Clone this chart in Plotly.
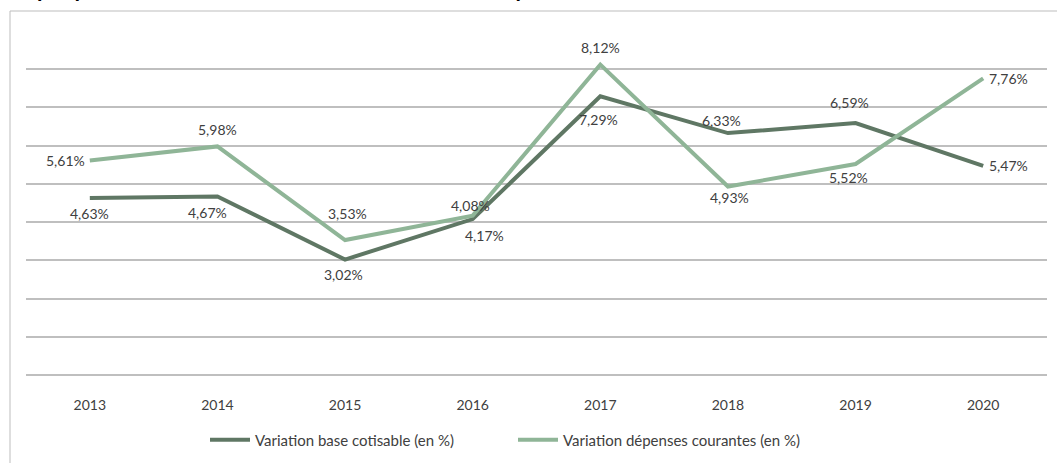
import plotly.graph_objects as go

years = ["2013", "2014", "2015", "2016", "2017", "2018", "2019", "2020"]
base_cotisable = [4.63, 4.67, 3.02, 4.08, 7.29, 6.33, 6.59, 5.47]
depenses_courantes = [5.61, 5.98, 3.53, 4.17, 8.12, 4.93, 5.52, 7.76]
name_base = "Variation base cotisable (en %)"
name_dep = "Variation dépenses courantes (en %)"
title_text = "Graphique 1 : Variation de la base cotisable et des dépenses courantes entre 2013 et 2020"

# label placement (pixel offsets, anchor) – style only
off_base = [(0, -15, "center"), (-10, -16, "center"), (-2, -15, "center"), (-2, 14, "center"),
            (-2, -23, "center"), (-6, 13, "center"), (-6, 21, "center"), (4, 0, "left")]
off_dep = [(-3, 0, "right"), (0, 17, "center"), (2, 27, "center"), (12, -20, "center"),
           (0, 17, "center"), (2, -11, "center"), (-7, -13, "center"), (4, 0, "left")]

def fmt(v):
    return f"{v:.2f}%".replace(".", ",")

FONT = "Lato, Open Sans, sans-serif"
DARK = "#5f7764"
LIGHT = "#8fb597"
TXT = "#404040"

fig = go.Figure()
fig.add_trace(go.Scatter(x=years, y=base_cotisable, name=name_base, mode="lines",
                         line=dict(color=DARK, width=4)))
fig.add_trace(go.Scatter(x=years, y=depenses_courantes, name=name_dep, mode="lines",
                         line=dict(color=LIGHT, width=4)))

for series, offs in ((base_cotisable, off_base), (depenses_courantes, off_dep)):
    for i, (v, (dx, dy, anc)) in enumerate(zip(series, offs)):
        fig.add_annotation(x=i, y=v, xref="x", yref="y", text=fmt(v), showarrow=False,
                           xanchor=anc, yanchor="middle", xshift=dx, yshift=dy,
                           font=dict(family=FONT, size=14, color=TXT))

L, R, T, B = 26, 10, 31, 88
W, H = 1057, 463
pw, ph = W - L - R, H - T - B

def px(x):
    return (x - L) / pw

def py(y):
    return (H - B - y) / ph

fig.add_shape(type="rect", xref="paper", yref="paper",
              x0=px(10), x1=px(1070), y0=py(480), y1=py(11),
              line=dict(color="#bdbdbd", width=1), fillcolor="rgba(0,0,0,0)", layer="below")

fig.add_annotation(text="<b>" + title_text + "</b>", xref="paper", yref="paper",
                   x=px(0), y=py(4.5), xanchor="left", yanchor="bottom", showarrow=False,
                   font=dict(family=FONT, size=22, color="#000000"))

fig.update_layout(
    width=W, height=H,
    margin=dict(l=L, r=R, t=T, b=B, pad=0, autoexpand=False),
    paper_bgcolor="white", plot_bgcolor="white",
    font=dict(family=FONT, size=14, color=TXT),
    showlegend=True,
    legend=dict(orientation="h", x=px(205), xanchor="left", y=py(440), yanchor="middle",
                font=dict(family=FONT, size=15, color=TXT), entrywidth=253, entrywidthmode="pixels",
                itemwidth=40),
    xaxis=dict(type="category", range=[-0.5, 7.5], showgrid=False, zeroline=False,
               showline=False, ticks="", tickfont=dict(family=FONT, size=14, color=TXT),
               ticklabelstandoff=20),
    yaxis=dict(range=[0, 9], dtick=1, showgrid=True, gridcolor="#bfbfbf", gridwidth=1.5,
               showticklabels=False, zeroline=True, zerolinecolor="#bfbfbf", zerolinewidth=1.5,
               showline=False),
)

fig.write_html("out.html", config={"displayModeBar": False},
               post_script="document.body.style.margin='0';document.body.style.overflow='hidden';")
